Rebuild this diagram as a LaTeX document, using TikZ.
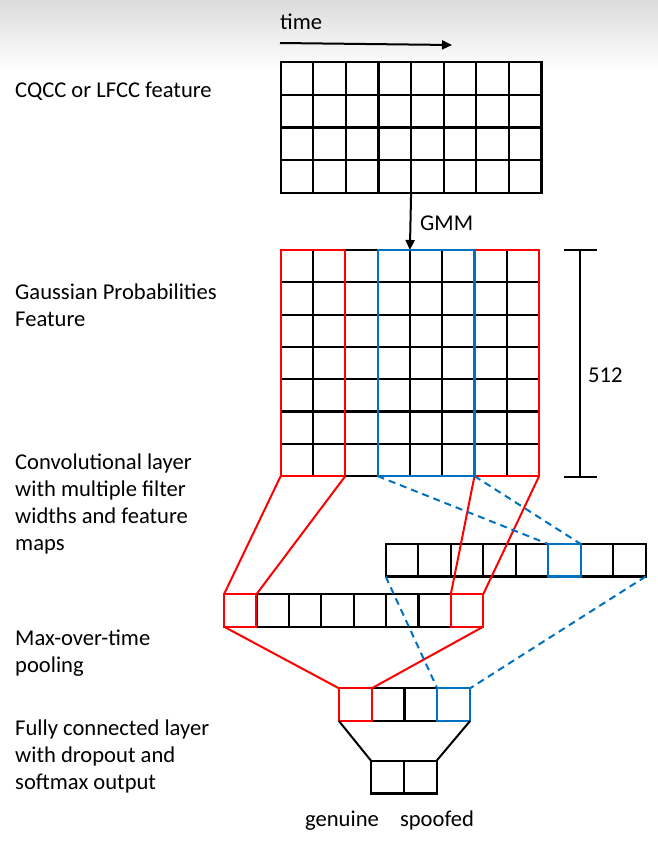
\documentclass[tikz,border=0pt]{standalone}
\usepackage{fontspec}
\setmainfont{Carlito}
\usetikzlibrary{arrows.meta}

\definecolor{filtred}{RGB}{255,0,0}
\definecolor{filtblue}{RGB}{0,112,192}

\begin{document}
\begin{tikzpicture}[x=1pt, y=-1pt,
    cell/.style={draw, line width=2.2pt, inner sep=0pt, outer sep=0pt, minimum size=#1pt},
    redline/.style={draw=filtred, line width=2pt},
    blueline/.style={draw=filtblue, line width=2pt, dash pattern=on 7pt off 5pt},
    bluebox/.style={draw=filtblue, line width=2.2pt},
    lbl/.style={font=\fontsize{22.6}{27}\selectfont, align=left, anchor=base west, inner sep=0pt},
    arr/.style={line width=2pt, -{Triangle[length=10pt, width=9pt]}}]
    \useasboundingbox (0,0) rectangle (658,847);

    % slide background, grey at the top
    \shade[top color=black!14, bottom color=white] (0,0) rectangle (658,70);

    % Left labels (base = last line)
    \node[lbl] (lab-in) at (15,97) {CQCC or LFCC feature};
    \node[lbl] (lab-gp) at (15,326) {Gaussian Probabilities\\Feature};
    \node[lbl] (lab-cv) at (15,550) {Convolutional layer\\with multiple filter\\widths and feature\\maps};
    \node[lbl] (lab-mp) at (15,672) {Max-over-time\\pooling};
    \node[lbl] (lab-fc) at (15,789) {Fully connected layer\\with dropout and\\softmax output};

    % time axis
    \coordinate (t-a) at (280,43);
    \coordinate (t-b) at (452,45);
    \draw[arr] (t-a) -- (t-b);
    \node[lbl] (lab-time) at (280,29) {time};

    % CQCC or LFCC feature: 8 x 4
    \def\cs{32.6}
    \foreach \i in {1,...,8}
        \foreach \j in {1,...,4}
            \node[cell=\cs] (c-\j-\i) at (280.7+\cs*\i-\cs/2, 62.3+\cs*\j-\cs/2) {};

    % Gaussian probabilities feature: 8 x 7
    \def\gs{32.3}
    \foreach \i in {1,...,8}
        \foreach \j in {1,...,7}
            \node[cell=\gs] (g-\j-\i) at (280.7+\gs*\i-\gs/2, 250+\gs*\j-\gs/2) {};

    % GMM step
    \draw[arr] (c-4-4.south east) -- (g-1-4.north east);
    \node[lbl] (lab-gmm) at (420,230) {GMM};

    % filters
    \draw[redline] (g-1-1.north west) rectangle (g-7-2.south east);
    \draw[redline] (g-1-7.north west) rectangle (g-7-8.south east);
    \draw[bluebox] (g-1-4.north west) rectangle (g-7-6.south east);

    % 512 bar
    \coordinate (b-top) at (580,250);
    \coordinate (b-bot) at (580,476.7);
    \draw[line width=1.8pt] (b-top) -- (b-bot);
    \draw[line width=1.8pt] ([xshift=-16pt]b-top) -- ([xshift=17pt]b-top);
    \draw[line width=1.8pt] ([xshift=-16pt]b-bot) -- ([xshift=17pt]b-bot);
    \node[lbl] (lab-512) at (588,382) {512};

    % feature maps
    \foreach \i in {1,...,8}
        \node[cell=32.5] (mb-\i) at (385.7+32.5*\i-16.25, 560.25) {};
    \foreach \i in {1,...,8}
        \node[cell=32.4] (mr-\i) at (224+32.4*\i-16.2, 610.5) {};

    % max pooling and output
    \foreach \i in {1,...,4}
        \node[cell=32.75] (p-\i) at (339+32.75*\i-16.375, 704.7) {};
    \foreach \i in {1,2}
        \node[cell=32.8] (o-\i) at (371+32.8*\i-16.4, 777.1) {};

    % highlighted cells
    \draw[redline] (mr-1.north west) rectangle (mr-1.south east);
    \draw[redline] (mr-8.north west) rectangle (mr-8.south east);
    \draw[redline] (p-1.north west) rectangle (p-1.south east);
    \draw[bluebox] (mb-6.north west) rectangle (mb-6.south east);
    \draw[bluebox] (p-4.north west) rectangle (p-4.south east);

    % red filter to its map
    \draw[redline] (g-7-1.south west) -- (mr-1.north west);
    \draw[redline] (g-7-2.south east) -- (mr-1.north east);
    \draw[redline] (g-7-7.south west) -- (mr-8.north west);
    \draw[redline] (g-7-8.south east) -- (mr-8.north east);
    % blue filter to its map
    \draw[blueline] (g-7-4.south west) -- (mb-6.north west);
    \draw[blueline] (g-7-6.south east) -- (mb-6.north east);

    % pooling
    \draw[redline] (mr-1.south west) -- (p-1.north west);
    \draw[redline] (mr-8.south east) -- (p-1.north east);
    \draw[blueline] (mb-1.south west) -- (p-4.north west);
    \draw[blueline] (mb-8.south east) -- (p-4.north east);

    % fully connected
    \draw[line width=2pt] (p-1.south west) -- (o-1.north west);
    \draw[line width=2pt] (p-4.south east) -- (o-2.north east);
    \node[lbl, anchor=base] (lab-gen) at (342,826) {genuine};
    \node[lbl, anchor=base] (lab-spf) at (437,826) {spoofed};
\end{tikzpicture}
\end{document}
